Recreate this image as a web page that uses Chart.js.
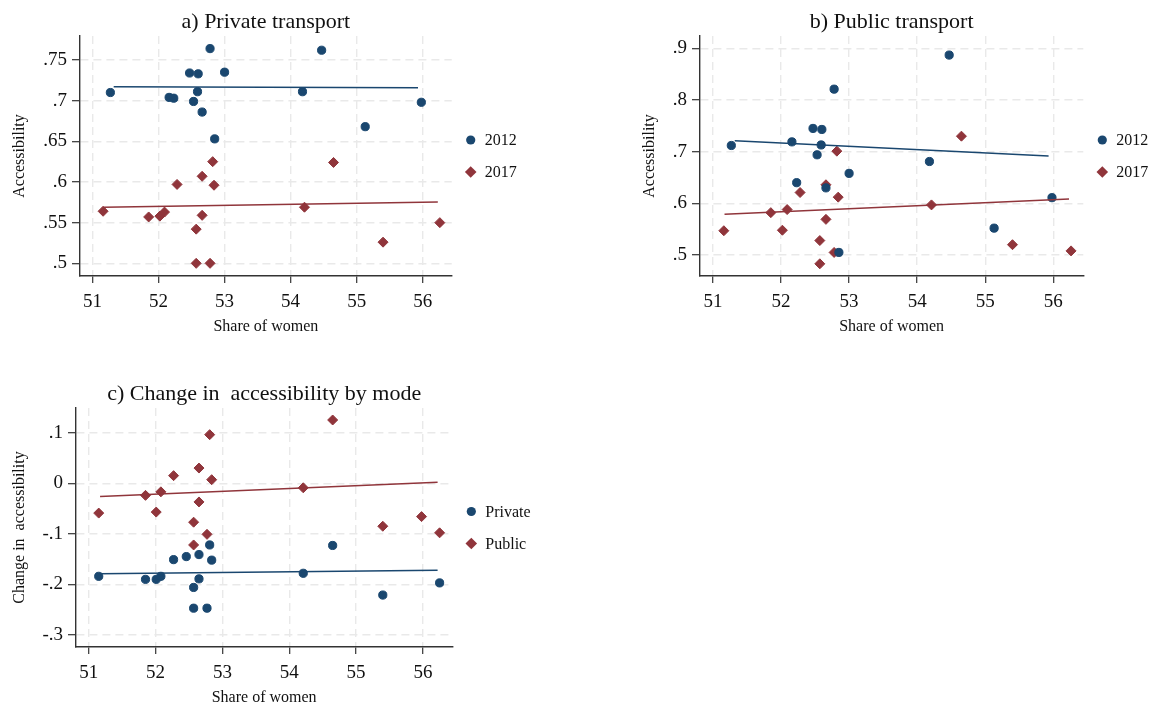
<!DOCTYPE html>
<html>
<head>
<meta charset="utf-8">
<title>Accessibility and share of women</title>
<script src="https://cdn.jsdelivr.net/npm/chart.js@4.4.1/dist/chart.umd.min.js"></script>
<style>
    body { margin: 0; background: #ffffff; width: 1154px; height: 707px; overflow: hidden; position: relative; }
    canvas { position: absolute; }
</style>
</head>
<body>
<canvas id="panel-a" width="560" height="338" style="left:0px;top:0px"></canvas>
<canvas id="panel-b" width="524" height="338" style="left:630px;top:0px"></canvas>
<canvas id="panel-c" width="560" height="337" style="left:0px;top:372px"></canvas>
<script>
// ============================================
// Data
// ============================================

// Share of women per area, 2012 and 2017
const shareWomen2012 = [51.27, 52.16, 52.23, 52.47, 52.60, 52.59, 52.53, 52.66, 52.78, 53.00, 52.85, 54.18, 54.47, 55.13, 55.98];
const shareWomen2017 = [51.16, 51.85, 52.02, 52.09, 52.28, 52.57, 52.66, 52.66, 52.82, 52.84, 52.57, 52.78, 54.21, 54.65, 55.40, 56.26];

// a) Private transport accessibility
const private2012 = [0.710, 0.704, 0.703, 0.734, 0.733, 0.711, 0.699, 0.686, 0.764, 0.735, 0.653, 0.711, 0.762, 0.668, 0.698];
const private2017 = [0.564, 0.557, 0.558, 0.563, 0.597, 0.542, 0.607, 0.559, 0.625, 0.596, 0.500, 0.500, 0.569, 0.624, 0.526, 0.550];

// b) Public transport accessibility
const public2012 = [0.712, 0.719, 0.640, 0.745, 0.743, 0.713, 0.694, 0.630, 0.821, 0.658, 0.505, 0.681, 0.887, 0.552, 0.611];
const public2017 = [0.547, 0.582, 0.548, 0.588, 0.621, 0.528, 0.636, 0.569, 0.701, 0.612, 0.483, 0.505, 0.597, 0.730, 0.520, 0.508];

// c) Change in accessibility by mode
const shareWomenPrivate = [51.15, 51.85, 52.01, 52.08, 52.27, 52.46, 52.65, 52.81, 52.84, 52.57, 52.65, 52.57, 52.77, 54.21, 54.65, 55.40, 56.25];
const changePrivate = [-0.184, -0.190, -0.190, -0.184, -0.151, -0.145, -0.141, -0.122, -0.152, -0.206, -0.189, -0.247, -0.247, -0.178, -0.123, -0.221, -0.197];
const shareWomenPublic = [51.15, 51.85, 52.01, 52.08, 52.27, 52.57, 52.57, 52.65, 52.65, 52.77, 52.81, 52.84, 54.21, 54.65, 55.40, 55.98, 56.25];
const changePublic = [-0.059, -0.024, -0.057, -0.017, 0.015, -0.077, -0.122, 0.030, -0.037, -0.101, 0.096, 0.007, -0.009, 0.125, -0.085, -0.066, -0.098];

// Linear fit lines (end points)
const fitX2012 = [51.32, 55.93];
const fitPrivate2012 = [0.7172, 0.7160];
const fitPublic2012 = [0.7213, 0.6915];
const fitX2017 = [51.17, 56.23];
const fitPrivate2017 = [0.5689, 0.5754];
const fitPublic2017 = [0.5787, 0.6085];
const fitXChange = [51.17, 56.22];
const fitChangePrivate = [-0.1790, -0.1722];
const fitChangePublic = [-0.0263, 0.0020];

// Tick labels
const xTicks = [51, 52, 53, 54, 55, 56];
const yTicksPrivate = [0.5, 0.55, 0.6, 0.65, 0.7, 0.75];
const yTicksPublic = [0.5, 0.6, 0.7, 0.8, 0.9];
const yTicksChange = [-0.3, -0.2, -0.1, 0, 0.1];

// ============================================
// Style
// ============================================

const NAVY = '#1a476f';
const MAROON = '#90353b';
const FONT = "'Liberation Serif', 'Times New Roman', serif";

// Build {x, y} points from two arrays
function toPoints(xs, ys) {
    return xs.map((x, i) => ({ x: x, y: ys[i] }));
}

// Stata style tick label: ".75", "-.1", "0"
function formatTick(value) {
    const s = String(+value.toFixed(2));
    return s.replace(/^(-?)0\./, '$1.');
}

// Legend drawn to the right of the plot area
const sideLegend = {
    id: 'sideLegend',
    afterDraw(chart, args, opts) {
        const ctx = chart.ctx;
        const area = chart.chartArea;
        const midY = (area.top + area.bottom) / 2;
        const mx = area.right + 19;
        ctx.save();
        ctx.font = '16px ' + FONT;
        ctx.textBaseline = 'middle';
        opts.items.forEach((item, i) => {
            const y = midY + (i - 0.5) * 32;
            ctx.fillStyle = item.color;
            ctx.beginPath();
            if (item.style === 'circle') {
                ctx.arc(mx, y, 4.6, 0, Math.PI * 2);
            } else {
                ctx.moveTo(mx, y - 5.8);
                ctx.lineTo(mx + 5.8, y);
                ctx.lineTo(mx, y + 5.8);
                ctx.lineTo(mx - 5.8, y);
                ctx.closePath();
            }
            ctx.fill();
            ctx.fillStyle = '#111111';
            ctx.fillText(item.label, mx + 14, y + 1);
        });
        ctx.restore();
    }
};

// ============================================
// Panel builder
// ============================================

function makePanel(canvasId, cfg) {
    const canvas = document.getElementById(canvasId);

    const scatterSet = (label, xs, ys, color, style) => ({
        label: label,
        data: toPoints(xs, ys),
        backgroundColor: color,
        borderColor: color,
        pointStyle: style,
        pointRadius: style === 'circle' ? 4.1 : 5.0,
        pointBorderWidth: 1,
        showLine: false,
        order: 2
    });
    const fitSet = (xs, ys, color) => ({
        label: 'fit',
        data: toPoints(xs, ys),
        borderColor: color,
        borderWidth: 1.5,
        pointRadius: 0,
        showLine: true,
        fill: false,
        order: 1
    });

    return new Chart(canvas, {
        type: 'scatter',
        data: {
            datasets: [
                scatterSet(cfg.labels[0], cfg.x1, cfg.y1, NAVY, 'circle'),
                scatterSet(cfg.labels[1], cfg.x2, cfg.y2, MAROON, 'rectRot'),
                fitSet(cfg.fitX1, cfg.fitY1, NAVY),
                fitSet(cfg.fitX2, cfg.fitY2, MAROON)
            ]
        },
        options: {
            responsive: false,
            animation: false,
            devicePixelRatio: 1,
            events: [],
            layout: { padding: { left: 0, top: 0, right: cfg.rightPad, bottom: 0 } },
            plugins: {
                legend: { display: false },
                tooltip: { enabled: false },
                title: {
                    display: true,
                    text: cfg.title,
                    fullSize: false,
                    color: '#111111',
                    font: { family: FONT, size: 22, weight: 'normal' },
                    padding: { top: 9, bottom: 0.6 }
                },
                sideLegend: {
                    items: [
                        { label: cfg.labels[0], color: NAVY, style: 'circle' },
                        { label: cfg.labels[1], color: MAROON, style: 'diamond' }
                    ]
                }
            },
            scales: {
                x: {
                    type: 'linear',
                    min: 50.81,
                    max: 56.44,
                    afterBuildTicks: s => { s.ticks = xTicks.map(v => ({ value: v })); },
                    afterFit: s => { s.height = 62; },
                    ticks: {
                        color: '#111111',
                        font: { family: FONT, size: 19 },
                        padding: 8,
                        maxRotation: 0,
                        callback: v => String(v)
                    },
                    grid: { color: '#e9e9e9', lineWidth: 1.4, tickColor: '#333333', tickLength: 7, tickWidth: 1.2 },
                    border: { display: true, color: '#333333', width: 1.4, dash: [8, 5] },
                    title: {
                        display: true,
                        text: 'Share of women',
                        color: '#111111',
                        font: { family: FONT, size: 16 },
                        padding: { top: 0, bottom: 1.4 }
                    }
                },
                y: {
                    type: 'linear',
                    min: cfg.yMin,
                    max: cfg.yMax,
                    afterBuildTicks: s => { s.ticks = cfg.yTicks.map(v => ({ value: v })); },
                    afterFit: s => { s.width = cfg.yWidth; },
                    ticks: {
                        color: '#111111',
                        font: { family: FONT, size: 19 },
                        padding: 5,
                        callback: v => formatTick(v)
                    },
                    grid: { color: '#e9e9e9', lineWidth: 1.4, tickColor: '#333333', tickLength: 8, tickWidth: 1.2 },
                    border: { display: true, color: '#333333', width: 1.4, dash: [8, 5] },
                    title: {
                        display: true,
                        text: cfg.yTitle,
                        color: '#111111',
                        font: { family: FONT, size: 16 },
                        padding: { top: 10.4, bottom: 0 }
                    }
                }
            }
        },
        plugins: [sideLegend]
    });
}

// ============================================
// Initialization
// ============================================

makePanel('panel-a', {
    title: 'a) Private transport',
    yTitle: 'Accessibility',
    labels: ['2012', '2017'],
    x1: shareWomen2012, y1: private2012,
    x2: shareWomen2017, y2: private2017,
    fitX1: fitX2012, fitY1: fitPrivate2012,
    fitX2: fitX2017, fitY2: fitPrivate2017,
    yMin: 0.4844, yMax: 0.7795, yTicks: yTicksPrivate,
    yWidth: 80, rightPad: 560 - 451.7
});

makePanel('panel-b', {
    title: 'b) Public transport',
    yTitle: 'Accessibility',
    labels: ['2012', '2017'],
    x1: shareWomen2012, y1: public2012,
    x2: shareWomen2017, y2: public2017,
    fitX1: fitX2012, fitY1: fitPublic2012,
    fitX2: fitX2017, fitY2: fitPublic2017,
    yMin: 0.4594, yMax: 0.9239, yTicks: yTicksPublic,
    yWidth: 70, rightPad: 524 - (1083.3 - 630)
});

makePanel('panel-c', {
    title: 'c) Change in  accessibility by mode',
    yTitle: 'Change in  accessibility',
    labels: ['Private', 'Public'],
    x1: shareWomenPrivate, y1: changePrivate,
    x2: shareWomenPublic, y2: changePublic,
    fitX1: fitXChange, fitY1: fitChangePrivate,
    fitX2: fitXChange, fitY2: fitChangePublic,
    yMin: -0.3237, yMax: 0.1487, yTicks: yTicksChange,
    yWidth: 76, rightPad: 560 - 452.3
});
</script>
</body>
</html>
